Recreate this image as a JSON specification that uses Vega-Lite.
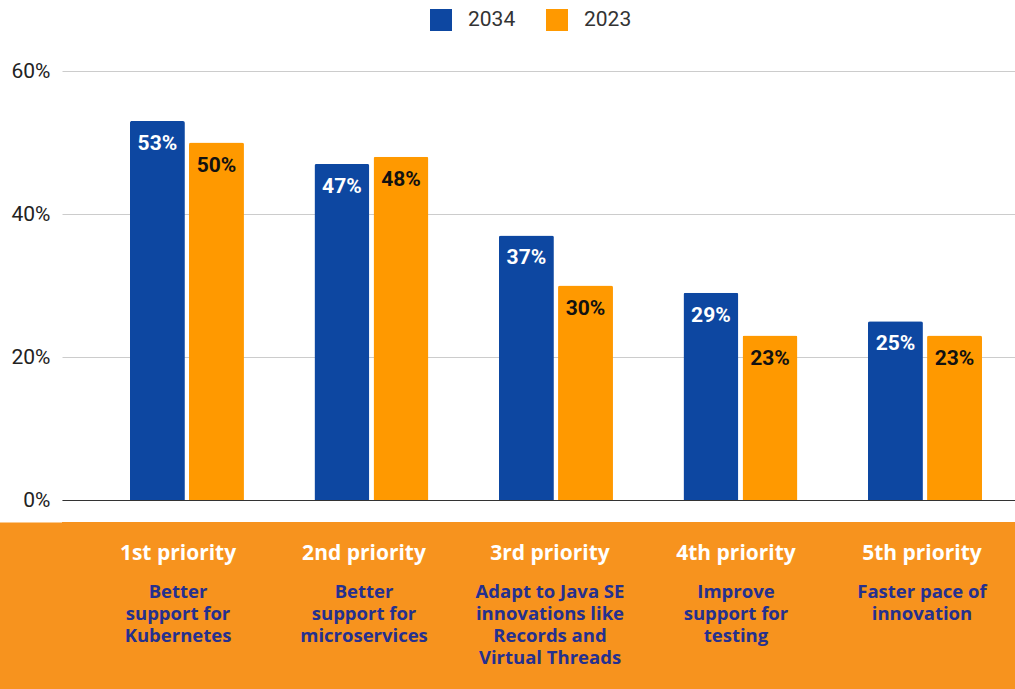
{
  "$schema": "https://vega.github.io/schema/vega-lite/v6.json",
  "padding": {"left": 0, "right": 0, "top": 9, "bottom": 0},
  "background": "white",
  "config": {"view": {"stroke": null}, "font": "Roboto"},
  "columns": 1,
  "spacing": 12,
  "concat": [
    {
      "width": 953,
      "height": 429,
      "data": {
        "values": [
          {"priority": "1st priority", "year": "2034", "value": 0.53},
          {"priority": "1st priority", "year": "2023", "value": 0.50},
          {"priority": "2nd priority", "year": "2034", "value": 0.47},
          {"priority": "2nd priority", "year": "2023", "value": 0.48},
          {"priority": "3rd priority", "year": "2034", "value": 0.37},
          {"priority": "3rd priority", "year": "2023", "value": 0.30},
          {"priority": "4th priority", "year": "2034", "value": 0.29},
          {"priority": "4th priority", "year": "2023", "value": 0.23},
          {"priority": "5th priority", "year": "2034", "value": 0.25},
          {"priority": "5th priority", "year": "2023", "value": 0.23}
        ]
      },
      "encoding": {
        "x": {
          "field": "priority", "type": "nominal", "sort": null,
          "scale": {"paddingInner": 0.382, "paddingOuter": 0.2735, "align": 0.673},
          "axis": {"title": null, "labels": false, "ticks": false, "grid": false, "domainColor": "#333", "domainWidth": 1, "minExtent": 0, "maxExtent": 0}
        },
        "xOffset": {
          "field": "year", "type": "nominal", "sort": ["2034", "2023"],
          "scale": {"domain": ["2034", "2023"], "paddingInner": 0.07, "paddingOuter": 0}
        },
        "y": {
          "field": "value", "type": "quantitative",
          "scale": {"domain": [0, 0.6]},
          "axis": {"values": [0, 0.2, 0.4, 0.6], "format": ".0%", "title": null, "ticks": false, "domain": false, "gridColor": "#cccccc", "labelFontSize": 21, "labelColor": "#222", "labelPadding": 12, "minExtent": 62, "maxExtent": 62}
        }
      },
      "layer": [
        {
          "mark": {"type": "bar", "cornerRadiusTopLeft": 2, "cornerRadiusTopRight": 2},
          "encoding": {
            "color": {
              "field": "year", "type": "nominal",
              "scale": {"domain": ["2034", "2023"], "range": ["#0D47A1", "#FF9900"]},
              "legend": {"orient": "none", "legendX": 368, "legendY": -62, "direction": "horizontal", "title": null, "symbolType": "square", "symbolSize": 484, "symbolStrokeWidth": 0, "symbolOpacity": 1, "labelFontSize": 21, "labelFont": "Roboto", "labelColor": "#333", "labelOffset": 16, "columnPadding": 30}
            }
          }
        },
        {
          "mark": {"type": "text", "baseline": "middle", "dy": 23, "fontSize": 21, "fontWeight": "bold", "font": "Roboto"},
          "encoding": {
            "text": {"field": "value", "type": "quantitative", "format": ".0%"},
            "color": {"condition": {"test": "datum.year === '2034'", "value": "white"}, "value": "#111"}
          }
        }
      ]
    },
    {
      "width": 953,
      "height": 167,
      "view": {"fill": "#F7931E", "stroke": null},
      "data": {
        "values": [
          {"priority": "1st priority", "desc": "Better\nsupport for\nKubernetes"},
          {"priority": "2nd priority", "desc": "Better\nsupport for\nmicroservices"},
          {"priority": "3rd priority", "desc": "Adapt to Java SE\ninnovations like\nRecords and\nVirtual Threads"},
          {"priority": "4th priority", "desc": "Improve\nsupport for\ntesting"},
          {"priority": "5th priority", "desc": "Faster pace of\ninnovation"}
        ]
      },
      "encoding": {
        "x": {"field": "priority", "type": "nominal", "sort": null, "scale": {"type": "point", "padding": 0.562, "align": 0.555}, "axis": null},
        "y": {"datum": "row", "type": "nominal", "axis": {"title": null, "labels": false, "ticks": false, "grid": false, "domain": true, "domainColor": "#F7931E", "domainWidth": 125, "domainCap": "butt", "minExtent": 62, "maxExtent": 62}}
      },
      "layer": [
        {
          "mark": {"type": "text", "font": "Open Sans", "fontWeight": "bold", "fontSize": 21, "color": "white", "baseline": "middle", "dy": -52},
          "encoding": {"text": {"field": "priority"}}
        },
        {
          "mark": {"type": "text", "font": "Open Sans", "fontWeight": "bold", "fontSize": 18.5, "color": "#25308F", "lineBreak": "\n", "lineHeight": 22, "baseline": "top", "dy": -23},
          "encoding": {"text": {"field": "desc"}}
        }
      ]
    }
  ]
}
